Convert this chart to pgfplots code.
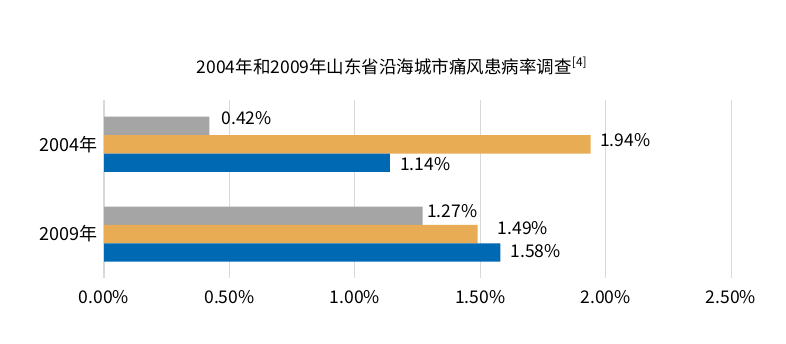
\documentclass[border=0pt]{standalone}
\usepackage{fontspec}
\setmainfont{Noto Sans CJK SC}
\usepackage{pgfplots}
\pgfplotsset{compat=1.18}
\definecolor{cgray}{HTML}{A5A5A5}
\definecolor{corange}{HTML}{E8AC54}
\definecolor{cblue}{HTML}{0069B4}
\definecolor{cgrid}{HTML}{D9D9D9}
\pgfplotstableread{
x y dx dy
0.42 1 12 8
1.27 0 4.3 5
}\grayd
\pgfplotstableread{
x y dx dy
1.94 1 9.3 4
1.49 0 20 6
}\oranged
\pgfplotstableread{
x y dx dy
1.14 1 10 -1
1.58 0 10 1
}\blued
\begin{document}
\begin{tikzpicture}[x=1pt,y=1pt]
\path[use as bounding box] (-104,-66) rectangle (682,278);
\begin{axis}[
  at={(0,0)}, anchor=south west,
  scale only axis, width=627pt, height=178pt,
  xmin=0, xmax=2.5, ymin=-0.489, ymax=1.494,
  xtick={0,0.5,1,1.5,2,2.5},
  ytick={0,1}, yticklabels={2009年,2004年},
  xticklabel={\pgfmathprintnumber[fixed,fixed zerofill,precision=2]{\tick}\%},
  /pgf/number format/assume math mode=true,
  axis line style={draw=none},
  major tick length=0pt,
  xmajorgrids, major grid style={cgrid, line width=1pt},
  ticklabel style={font=\fontsize{17.5}{20}\selectfont, text=black},
  yticklabel style={font=\fontsize{18}{20}\selectfont, xshift=-3pt},
  xticklabel style={yshift=-9pt},
  xbar, bar width=0.205,
  visualization depends on={\thisrow{dx} \as \mydx},
  visualization depends on={\thisrow{dy} \as \mydy},
  nodes near coords={\pgfmathprintnumber[fixed,fixed zerofill,precision=2]{\pgfplotspointmeta}\%},
  nodes near coords style={font=\fontsize{17.5}{20}\selectfont, text=black, anchor=west, inner sep=0pt, xshift=\mydx pt, yshift=\mydy pt},
  every axis plot/.append style={draw=none},
]
\addplot[fill=cgray, bar shift=0.205] table[x=x,y=y] {\grayd};
\addplot[fill=corange, bar shift=0] table[x=x,y=y] {\oranged};
\addplot[fill=cblue, bar shift=-0.205] table[x=x,y=y] {\blued};
\end{axis}
\node[font=\fontsize{17.5}{20}\selectfont, anchor=center] at (288,212) {2004年和2009年山东省沿海城市痛风患病率调查\textsuperscript{\fontsize{12}{14}\selectfont[4]}};
\end{tikzpicture}
\end{document}
